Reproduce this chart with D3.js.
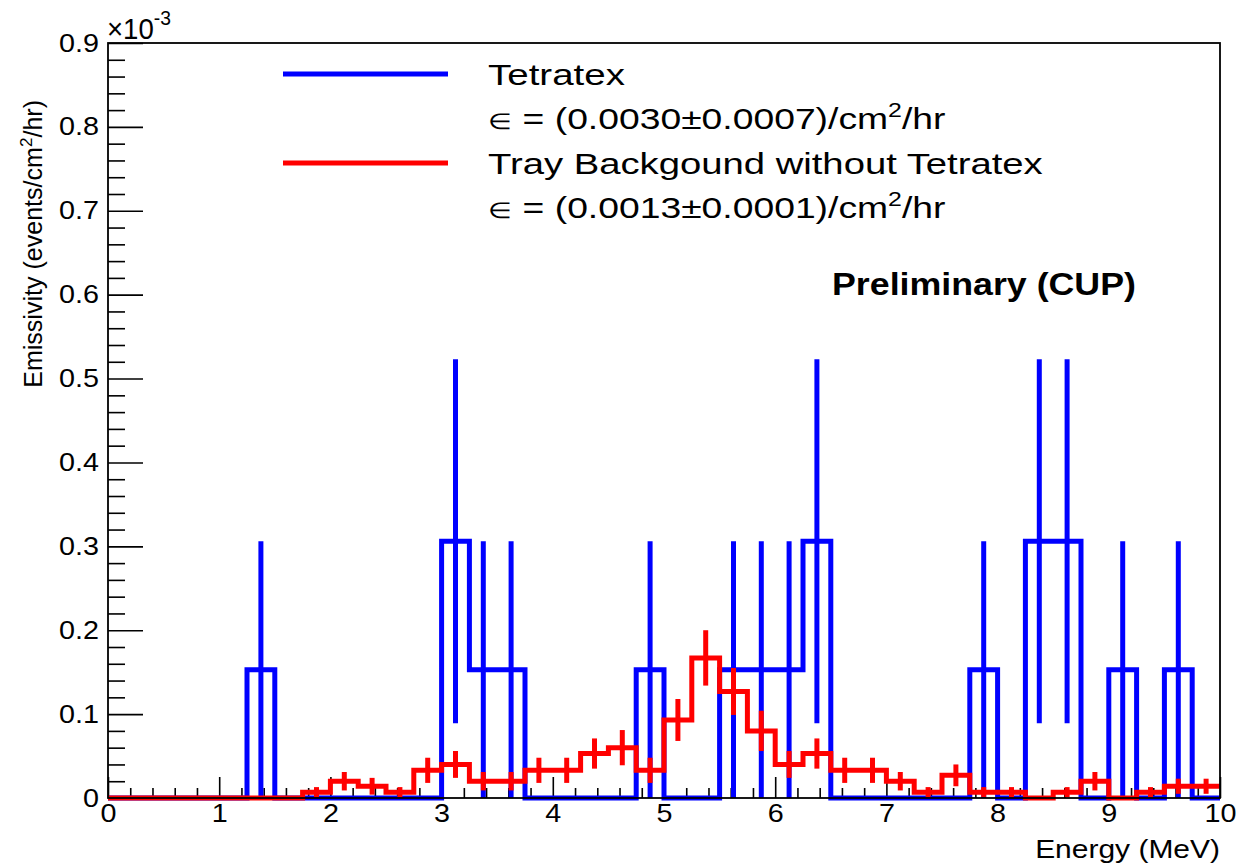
<!DOCTYPE html>
<html>
<head>
<meta charset="utf-8">
<script src="https://cdn.jsdelivr.net/npm/d3@7"></script>
<style>
  body { margin: 0; background: #fff; }
  text { font-family: "Liberation Sans", Arial, Helvetica, sans-serif; fill: #000; }
</style>
</head>
<body>
<svg id="chart" width="1237" height="865"></svg>
<script>
// Energy bin edges (MeV), 0.25 MeV wide bins
const binEdges = [0, 0.25, 0.5, 0.75, 1, 1.25, 1.5, 1.75, 2, 2.25, 2.5, 2.75, 3, 3.25, 3.5, 3.75,
  4, 4.25, 4.5, 4.75, 5, 5.25, 5.5, 5.75, 6, 6.25, 6.5, 6.75, 7, 7.25, 7.5, 7.75,
  8, 8.25, 8.5, 8.75, 9, 9.25, 9.5, 9.75, 10];

// Tetratex emissivity per bin (x10^-3 events/cm^2/hr) and its errors
const tetratexValues = [0, 0, 0, 0, 0, 0.153, 0, 0, 0, 0, 0, 0, 0.306, 0.153, 0.153, 0,
  0, 0, 0, 0.153, 0, 0, 0.153, 0.153, 0.153, 0.306, 0, 0, 0, 0, 0, 0.153,
  0, 0.306, 0.306, 0, 0.153, 0, 0.153, 0];
const tetratexErrors = [0, 0, 0, 0, 0, 0.153, 0, 0, 0, 0, 0, 0, 0.217, 0.153, 0.153, 0,
  0, 0, 0, 0.153, 0, 0, 0.153, 0.153, 0.153, 0.217, 0, 0, 0, 0, 0, 0.153,
  0, 0.217, 0.217, 0, 0.153, 0, 0.153, 0];

// Tray background without Tetratex per bin and its errors
const trayValues = [0, 0, 0, 0, 0, 0, 0, 0.007, 0.020, 0.014, 0.007, 0.033, 0.040, 0.020, 0.020, 0.033,
  0.033, 0.053, 0.060, 0.033, 0.093, 0.167, 0.127, 0.080, 0.040, 0.053, 0.033, 0.033, 0.020, 0.007, 0.027, 0.007,
  0.007, 0, 0.007, 0.020, 0, 0.007, 0.014, 0.014];
const trayErrors = [0, 0, 0, 0, 0, 0, 0, 0.006, 0.011, 0.010, 0.006, 0.015, 0.016, 0.011, 0.011, 0.015,
  0.015, 0.018, 0.021, 0.015, 0.025, 0.033, 0.028, 0.024, 0.016, 0.018, 0.015, 0.015, 0.011, 0.006, 0.013, 0.006,
  0.006, 0, 0.006, 0.011, 0, 0.006, 0.009, 0.009];

const xTickValues = [0, 1, 2, 3, 4, 5, 6, 7, 8, 9, 10];
const yTickValues = [0, 0.1, 0.2, 0.3, 0.4, 0.5, 0.6, 0.7, 0.8, 0.9];

const seriesNames = ["Tetratex", "Tray Backgound without Tetratex"];
const seriesRates = ["(0.0030\u00B10.0007)", "(0.0013\u00B10.0001)"];
const seriesColors = ["#0000ff", "#ff0000"];

const plot = { left: 108, right: 1220, top: 43, bottom: 798 };

const svg = d3.select("#chart");

const x = d3.scaleLinear().domain([0, 10]).range([plot.left, plot.right]);
const y = d3.scaleLinear().domain([0, 0.9]).range([plot.bottom, plot.top]);

// stretch a text element along its own direction so it spans the given length
function fitText(sel, length, ax, ay, rotate) {
  const w = sel.node().getBBox().width;
  const s = length / w;
  sel.attr("transform", `translate(${ax},${ay})` + (rotate ? ` rotate(${rotate})` : "") + ` scale(${s},1)`);
}

// ---- axes (ticks point into the frame) ----
const tickFont = 25, tickStretch = 1.15;

const xMinor = d3.range(0, 10.0001, 0.2).filter(v => Math.abs(v - Math.round(v)) > 1e-6);
const yMinor = d3.range(0, 0.9001, 0.02).filter(v => Math.abs(v * 10 - Math.round(v * 10)) > 1e-6);

const gx = svg.append("g").attr("transform", `translate(0,${plot.bottom})`)
  .call(d3.axisBottom(x).tickValues(xTickValues).tickSize(-21).tickPadding(6).tickFormat(d3.format("d")));
svg.append("g").attr("transform", `translate(0,${plot.bottom})`)
  .call(d3.axisBottom(x).tickValues(xMinor).tickSize(-10).tickFormat(""))
  .call(g => g.select(".domain").remove());

const gy = svg.append("g").attr("transform", `translate(${plot.left},0)`)
  .call(d3.axisLeft(y).tickValues(yTickValues).tickSize(-35).tickPadding(9).tickFormat(d3.format("~g")));
svg.append("g").attr("transform", `translate(${plot.left},0)`)
  .call(d3.axisLeft(y).tickValues(yMinor).tickSize(-17).tickFormat(""))
  .call(g => g.select(".domain").remove());

[gx, gy].forEach(g => {
  g.select(".domain").remove();
  g.selectAll(".tick text")
    .attr("font-size", tickFont)
    .style("font-family", "'Liberation Sans', Arial, sans-serif")
    .attr("fill", "#000");
});
gx.selectAll(".tick text").attr("transform", `scale(${tickStretch},1)`);
gy.selectAll(".tick text").each(function () {
  const t = d3.select(this);
  const xx = +t.attr("x");
  t.attr("x", 0).attr("transform", `translate(${xx},0) scale(${tickStretch},1)`);
});
svg.selectAll(".tick line").attr("stroke", "#000").attr("stroke-width", 1.6);

// ---- histograms ----
function stepPoints(values) {
  const pts = values.map((v, i) => [binEdges[i], v]);
  pts.push([binEdges[binEdges.length - 1], values[values.length - 1]]);
  return pts;
}
const stepLine = d3.line().x(d => x(d[0])).y(d => y(d[1])).curve(d3.curveStepAfter);

function drawHist(values, errors, color) {
  const g = svg.append("g");
  g.append("path")
    .attr("d", stepLine(stepPoints(values)))
    .attr("fill", "none")
    .attr("stroke", color)
    .attr("stroke-width", 5)
    .attr("stroke-linejoin", "miter");
  const bins = values.map((v, i) => ({ c: (binEdges[i] + binEdges[i + 1]) / 2, v, e: errors[i] }))
    .filter(d => d.v > 0);
  g.selectAll("line.err").data(bins).join("line")
    .attr("class", "err")
    .attr("x1", d => x(d.c)).attr("x2", d => x(d.c))
    .attr("y1", d => y(Math.max(0, d.v - d.e))).attr("y2", d => y(d.v + d.e))
    .attr("stroke", color).attr("stroke-width", 5);
}
drawHist(tetratexValues, tetratexErrors, seriesColors[0]);
drawHist(trayValues, trayErrors, seriesColors[1]);

// ---- frame ----
svg.append("rect")
  .attr("x", plot.left).attr("y", plot.top)
  .attr("width", plot.right - plot.left).attr("height", plot.bottom - plot.top)
  .attr("fill", "none").attr("stroke", "#000").attr("stroke-width", 1.8);

// ---- exponent marker ----
const expo = svg.append("text").attr("font-size", 30);
expo.append("tspan").text("\u00D710");
expo.append("tspan").attr("font-size", 21).attr("dy", -14).text("-3");
fitText(expo, 64, 107, 39);

// ---- axis titles ----
const xTitle = svg.append("text").attr("font-size", 26).attr("text-anchor", "end").text("Energy (MeV)");
fitText(xTitle, 185, plot.right, 858);

const yTitle = svg.append("text").attr("font-size", 25).attr("text-anchor", "end");
yTitle.append("tspan").text("Emissivity (events/cm");
yTitle.append("tspan").attr("font-size", 17).attr("dy", -10).text("2");
yTitle.append("tspan").attr("dy", 10).text("/hr)");
fitText(yTitle, 288, 42, 100, -90);

// ---- legend ----
const legendRows = [74, 163];
const legendFont = 30;
seriesNames.forEach((name, i) => {
  const ly = legendRows[i];
  svg.append("line")
    .attr("x1", 283).attr("x2", 448).attr("y1", ly).attr("y2", ly)
    .attr("stroke", seriesColors[i]).attr("stroke-width", 5);
  const t1 = svg.append("text").attr("font-size", legendFont).attr("dy", "0.36em").text(name);
  fitText(t1, i === 0 ? 137 : 555, 488, ly);
  const t2 = svg.append("text").attr("font-size", legendFont).attr("dy", "0.36em");
  t2.append("tspan").attr("font-size", 22).text("\u2208");
  t2.append("tspan").text(" = " + seriesRates[i] + "/cm");
  t2.append("tspan").attr("font-size", 20).attr("dy", -12).text("2");
  t2.append("tspan").attr("dy", 12).text("/hr");
  fitText(t2, 457, 488, ly + 44);
});

// ---- annotation ----
const prelim = svg.append("text").attr("font-size", 31).attr("font-weight", "bold")
  .attr("dy", "0.36em").text("Preliminary (CUP)");
fitText(prelim, 304, 832, 284);
</script>
</body>
</html>
